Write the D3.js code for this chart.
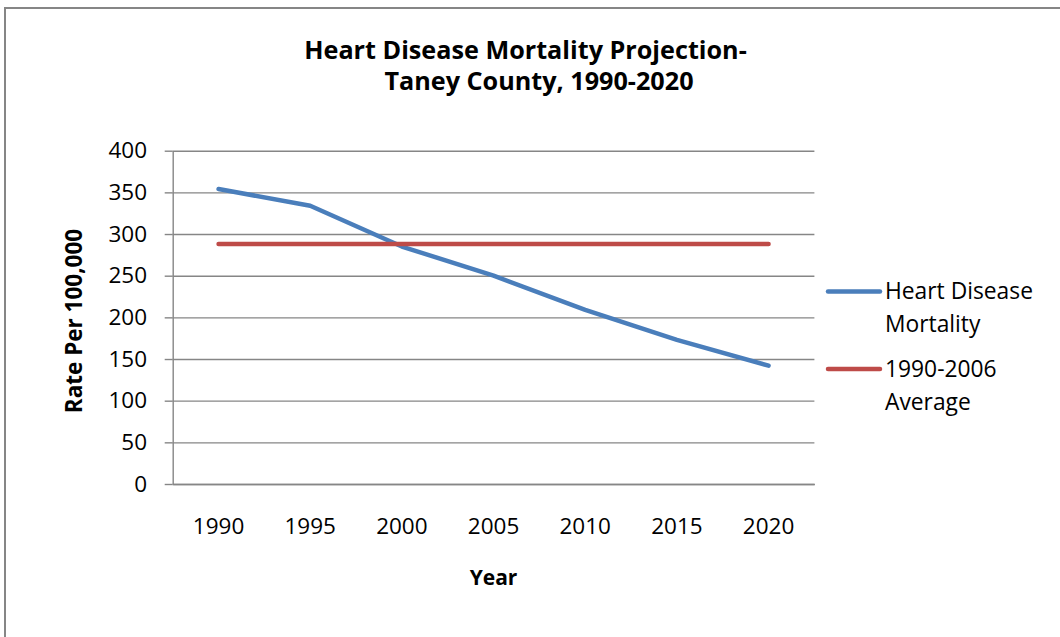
<!DOCTYPE html>
<html>
<head>
<meta charset="utf-8">
<script src="https://cdn.jsdelivr.net/npm/d3@7"></script>
<style>
  html, body { margin: 0; padding: 0; background: #fff; }
  svg { display: block; font-family: "Open Sans", sans-serif; }
</style>
</head>
<body>
<svg id="chart" width="1060" height="637"></svg>
<script>
const years = ["1990", "1995", "2000", "2005", "2010", "2015", "2020"];
const mortality = [354, 334, 285, 250, 209, 173, 142];
const average = [288, 288, 288, 288, 288, 288, 288];
const yTicks = [0, 50, 100, 150, 200, 250, 300, 350, 400];
const seriesNames = ["Heart Disease Mortality", "1990-2006 Average"];
const titleLines = ["Heart Disease Mortality Projection-", "Taney County, 1990-2020"];

const svg = d3.select("#chart");
const W = 1060, H = 637;
const plot = { left: 172.7, right: 814.4, top: 150.7, bottom: 484 };
const gridColor = "#868686";
const colors = ["#4A7EBB", "#BE4B48"];

// outer chart frame
svg.append("rect")
  .attr("x", 5).attr("y", 8)
  .attr("width", W + 20).attr("height", H + 20)
  .attr("fill", "#fff").attr("stroke", gridColor).attr("stroke-width", 2);

const x = d3.scaleBand().domain(years).range([plot.left, plot.right]);
const y = d3.scaleLinear().domain([0, 400]).range([plot.bottom, plot.top]);
const cx = d => x(d) + x.bandwidth() / 2;

// gridlines
svg.append("g")
  .attr("transform", `translate(${plot.left},0)`)
  .call(d3.axisLeft(y).tickValues(yTicks).tickSize(-(plot.right - plot.left)).tickFormat(""))
  .call(g => g.select(".domain").remove())
  .call(g => g.selectAll("line").attr("stroke", gridColor).attr("stroke-width", 1.4));

// y axis
svg.append("g")
  .attr("transform", `translate(${plot.left},0)`)
  .call(d3.axisLeft(y).tickValues(yTicks).tickSize(8).tickPadding(17.7).tickSizeOuter(0))
  .call(g => g.select(".domain").attr("stroke", gridColor).attr("stroke-width", 1.4))
  .call(g => g.selectAll("line").attr("stroke", gridColor).attr("stroke-width", 1.4))
  .call(g => g.selectAll("text").attr("font-family", "Open Sans").attr("font-size", 22.5).attr("fill", "#000"));

// x axis
svg.append("g")
  .attr("transform", `translate(0,${plot.bottom})`)
  .call(d3.axisBottom(x).tickSize(0).tickPadding(34))
  .call(g => g.select(".domain").attr("stroke", gridColor).attr("stroke-width", 1.4))
  .call(g => g.selectAll("text").attr("font-family", "Open Sans").attr("font-size", 22.5).attr("fill", "#000"));

// series
const line = d3.line().x((d, i) => cx(years[i])).y(d => y(d));
[mortality, average].forEach((vals, i) => {
  svg.append("path")
    .datum(vals)
    .attr("d", line)
    .attr("fill", "none")
    .attr("stroke", colors[i])
    .attr("stroke-width", 4.5)
    .attr("stroke-linecap", "round")
    .attr("stroke-linejoin", "round");
});

// title
svg.append("text")
  .attr("x", 525.5).attr("y", 59)
  .attr("text-anchor", "middle")
  .attr("font-family", "Open Sans").attr("font-weight", "bold").attr("font-size", 25.2)
  .text(titleLines[0]);
svg.append("text")
  .attr("x", 539).attr("y", 90)
  .attr("text-anchor", "middle")
  .attr("font-family", "Open Sans").attr("font-weight", "bold").attr("font-size", 25.2)
  .text(titleLines[1]);

// axis titles
svg.append("text")
  .attr("transform", `translate(82,321) rotate(-90)`)
  .attr("text-anchor", "middle")
  .attr("font-family", "Open Sans").attr("font-weight", "bold").attr("font-size", 22.5)
  .text("Rate Per 100,000");
svg.append("text")
  .attr("x", (plot.left + plot.right) / 2).attr("y", 585)
  .attr("text-anchor", "middle")
  .attr("font-family", "Open Sans").attr("font-weight", "bold").attr("font-size", 21)
  .text("Year");

// legend
const legendItems = [
  { lines: ["Heart Disease", "Mortality"], color: colors[0], y: 291.5 },
  { lines: ["1990-2006", "Average"], color: colors[1], y: 369 }
];
legendItems.forEach(item => {
  const g = svg.append("g");
  g.append("line")
    .attr("x1", 828).attr("x2", 880)
    .attr("y1", item.y).attr("y2", item.y)
    .attr("stroke", item.color).attr("stroke-width", 4.5)
    .attr("stroke-linecap", "round");
  item.lines.forEach((t, j) => {
    g.append("text")
      .attr("x", 885).attr("y", item.y + j * 33)
      .attr("dy", "0.35em")
      .attr("font-family", "Open Sans").attr("font-size", 22.8)
      .text(t);
  });
});
</script>
</body>
</html>
